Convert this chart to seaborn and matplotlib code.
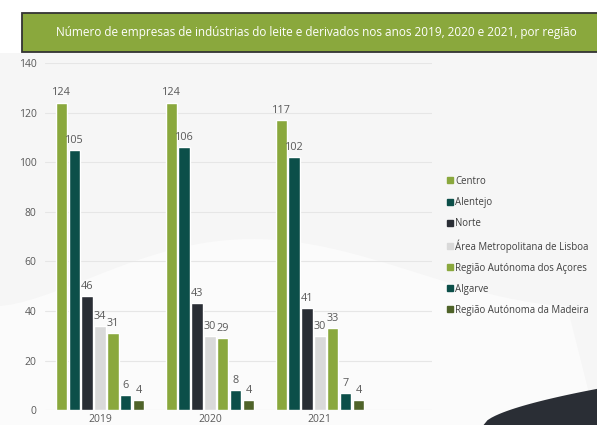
import numpy as np
import pandas as pd
import seaborn as sns
import matplotlib.pyplot as plt
from matplotlib.patches import Rectangle, Polygon
from matplotlib.lines import Line2D

years = ['2019', '2020', '2021']
regions = ['Centro', 'Alentejo', 'Norte', 'Área Metropolitana de Lisboa',
           'Região Autónoma dos Açores', 'Algarve', 'Região Autónoma da Madeira']
centro = [124, 124, 117]
alentejo = [105, 106, 102]
norte = [46, 43, 41]
lisboa = [34, 30, 30]
acores = [31, 29, 33]
algarve = [6, 8, 7]
madeira = [4, 4, 4]
colors = ['#8aa83d', '#0c4f49', '#2a2e35', '#d9d9d9', '#8aa83d', '#0c4f49', '#4f6329']

series = [centro, alentejo, norte, lisboa, acores, algarve, madeira]
rows = []
for reg, vals in zip(regions, series):
    for yr, v in zip(years, vals):
        rows.append({'ano': yr, 'regiao': reg, 'n': v})
df = pd.DataFrame(rows)

sns.set_style('white')
plt.rcParams['font.family'] = ['Open Sans', 'DejaVu Sans']

fig = plt.figure(figsize=(5.97, 4.25), dpi=100)
fig.patch.set_facecolor('white')

# background panel + decoration
fig.patches.append(Rectangle((0, 0), 1, 0.875, transform=fig.transFigure,
                             facecolor='#f6f6f6', edgecolor='none', zorder=-10))
t = np.linspace(0, 1, 50)
wave_x = np.concatenate([0.0 + 0.95 * t, [1.0, 0.0]])
wave_y = np.concatenate([0.28 + 0.22 * np.sin(np.pi * t) ** 1.5 * (1 - 0.6 * t), [0.0, 0.0]])
fig.patches.append(Polygon(np.column_stack([wave_x, wave_y]), closed=True,
                           transform=fig.transFigure, facecolor='#fbfbfb',
                           edgecolor='none', zorder=-9))
s = np.linspace(0, 1, 30)
dark_x = np.concatenate([0.81 + 0.19 * s, [1.0]])
dark_y = np.concatenate([0.0 + 0.085 * s ** 0.6, [0.0]])
fig.patches.append(Polygon(np.column_stack([dark_x, dark_y]), closed=True,
                           transform=fig.transFigure, facecolor='#2a2e35',
                           edgecolor='none', zorder=-8))

ax = fig.add_axes([45 / 597, 0.035, 387 / 597, 0.817])
ax.set_facecolor('none')
sns.barplot(data=df, x='ano', y='n', hue='regiao', hue_order=regions,
            palette=colors, width=0.82, gap=0.12, ax=ax, legend=False,
            saturation=1)

for cont in ax.containers:
    ax.bar_label(cont, fmt='%d', padding=3, fontsize=7.8, color='#595959')

ax.set_ylim(0, 140)
ax.set_xlim(-0.5, 3.02)
ax.set_yticks(range(0, 141, 20))
ax.yaxis.grid(True, color='#e6e6e6', linewidth=0.8)
ax.set_axisbelow(True)
for sp in ax.spines.values():
    sp.set_visible(False)
ax.tick_params(axis='both', length=0, labelsize=7.5, labelcolor='#595959', pad=6)
ax.tick_params(axis='x', pad=3)
ax.set_xlabel('')
ax.set_ylabel('')

# title box
fig.patches.append(Rectangle((22 / 597, 1 - 52 / 425), 1, 39 / 425,
                             transform=fig.transFigure, facecolor='#8aa83d',
                             edgecolor='#333333', linewidth=1.3, zorder=5))
fig.text(316 / 597, 1 - 32.5 / 425,
         'Número de empresas de indústrias do leite e derivados nos anos 2019, 2020 e 2021, por região',
         ha='center', va='center', color='white', fontsize=8.5, zorder=6)

handles = [Line2D([], [], marker='s', linestyle='none', markersize=5,
                  markerfacecolor=c, markeredgecolor=c) for c in colors]
fig.legend(handles, regions, loc='upper left', bbox_to_anchor=(443 / 597, 1 - 172 / 425),
           frameon=False, fontsize=6.9, labelcolor='#404040', handlelength=0.6,
           handletextpad=0.3, labelspacing=1.05, borderaxespad=0)

fig.savefig('out.png', dpi=100)
